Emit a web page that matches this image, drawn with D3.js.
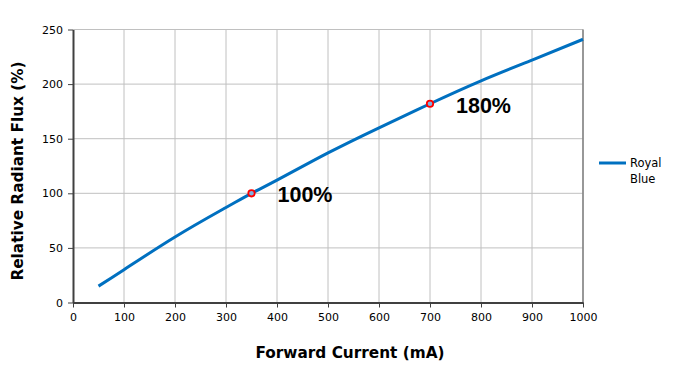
<!DOCTYPE html>
<html><head><meta charset="utf-8">
<script src="https://cdn.jsdelivr.net/npm/d3@7"></script>
<style>body{margin:0;background:#fff}svg{display:block}</style>
</head><body>
<script>
const currents = [50, 100, 200, 300, 350, 400, 500, 600, 700, 800, 900, 1000];
const flux = [15, 30, 60, 87, 100, 112, 137, 160, 182, 203, 222, 241];
const markerCurrents = [350, 700];
const markerFlux = [100, 182];
const markerLabels = ["100%", "180%"];
const xTicks = [0,100,200,300,400,500,600,700,800,900,1000];
const yTicks = [0,50,100,150,200,250];
const seriesName = ["Royal", "Blue"];

const W = 677, H = 368;
const svg = d3.select("body").append("svg").attr("width", W).attr("height", H);
const x = d3.scaleLinear().domain([0, 1000]).range([73, 583]);
const y = d3.scaleLinear().domain([0, 250]).range([302.5, 29.5]);
const font = "'DejaVu Sans', Verdana, sans-serif";

// grid
svg.append("g").selectAll("line").data(xTicks.slice(1)).join("line")
  .attr("x1", d => x(d)).attr("x2", d => x(d)).attr("y1", y(0)).attr("y2", y(250))
  .attr("stroke", "#c0c0c0").attr("stroke-width", 1);
svg.append("g").selectAll("line").data(yTicks.slice(1)).join("line")
  .attr("x1", x(0)).attr("x2", x(1000)).attr("y1", d => y(d)).attr("y2", d => y(d))
  .attr("stroke", "#c0c0c0").attr("stroke-width", 1);
// right border
svg.append("line").attr("x1", x(1000)).attr("x2", x(1000)).attr("y1", y(0)).attr("y2", y(250))
  .attr("stroke", "#808080").attr("stroke-width", 1.5);

// axes
const xAxis = svg.append("g").attr("transform", `translate(0,${y(0)})`)
  .call(d3.axisBottom(x).tickValues(xTicks).tickFormat(d3.format("d")).tickSize(5).tickPadding(6).tickSizeOuter(0));
const yAxis = svg.append("g").attr("transform", `translate(${x(0)},0)`)
  .call(d3.axisLeft(y).tickValues(yTicks).tickFormat(d3.format("d")).tickSize(5).tickPadding(5).tickSizeOuter(0));
[xAxis, yAxis].forEach(a => {
  a.select(".domain").attr("stroke", "#404040").attr("stroke-width", 2);
  a.selectAll(".tick line").attr("stroke", "#404040");
  a.selectAll("text").attr("font-family", font).attr("font-size", 11).attr("fill", "#000");
});

// curve
const data = currents.map((c, i) => ({c, f: flux[i]}));
svg.append("path").datum(data)
  .attr("d", d3.line().x(d => x(d.c)).y(d => y(d.f)).curve(d3.curveNatural))
  .attr("fill", "none").attr("stroke", "#0070c0").attr("stroke-width", 3);

// markers
const marks = markerCurrents.map((c, i) => ({c, f: markerFlux[i], l: markerLabels[i]}));
svg.append("g").selectAll("circle").data(marks).join("circle")
  .attr("cx", d => x(d.c)).attr("cy", d => y(d.f)).attr("r", 3.2)
  .attr("fill", "#7fb0e0").attr("stroke", "#ff0000").attr("stroke-width", 1.8);
svg.append("g").selectAll("text").data(marks).join("text")
  .attr("x", d => x(d.c) + 26).attr("y", d => y(d.f) + 9)
  .attr("font-family", "'Liberation Sans', Arial, sans-serif").attr("font-weight", "bold")
  .attr("font-size", 21.5).attr("fill", "#000").text(d => d.l);

// axis titles
svg.append("text").attr("x", 350).attr("y", 358).attr("text-anchor", "middle")
  .attr("font-family", font).attr("font-weight", "bold").attr("font-size", 15.3).text("Forward Current (mA)");
svg.append("text").attr("transform", "translate(23,171) rotate(-90)").attr("text-anchor", "middle")
  .attr("font-family", font).attr("font-weight", "bold").attr("font-size", 15.3).text("Relative Radiant Flux (%)");

// legend
svg.append("line").attr("x1", 599).attr("x2", 626).attr("y1", 163).attr("y2", 163)
  .attr("stroke", "#0070c0").attr("stroke-width", 3);
svg.append("g").selectAll("text").data(seriesName).join("text")
  .attr("x", 630).attr("y", (d, i) => 167 + i * 16)
  .attr("font-family", font).attr("font-size", 11.5).attr("fill", "#000").text(d => d);
</script>
</body></html>
